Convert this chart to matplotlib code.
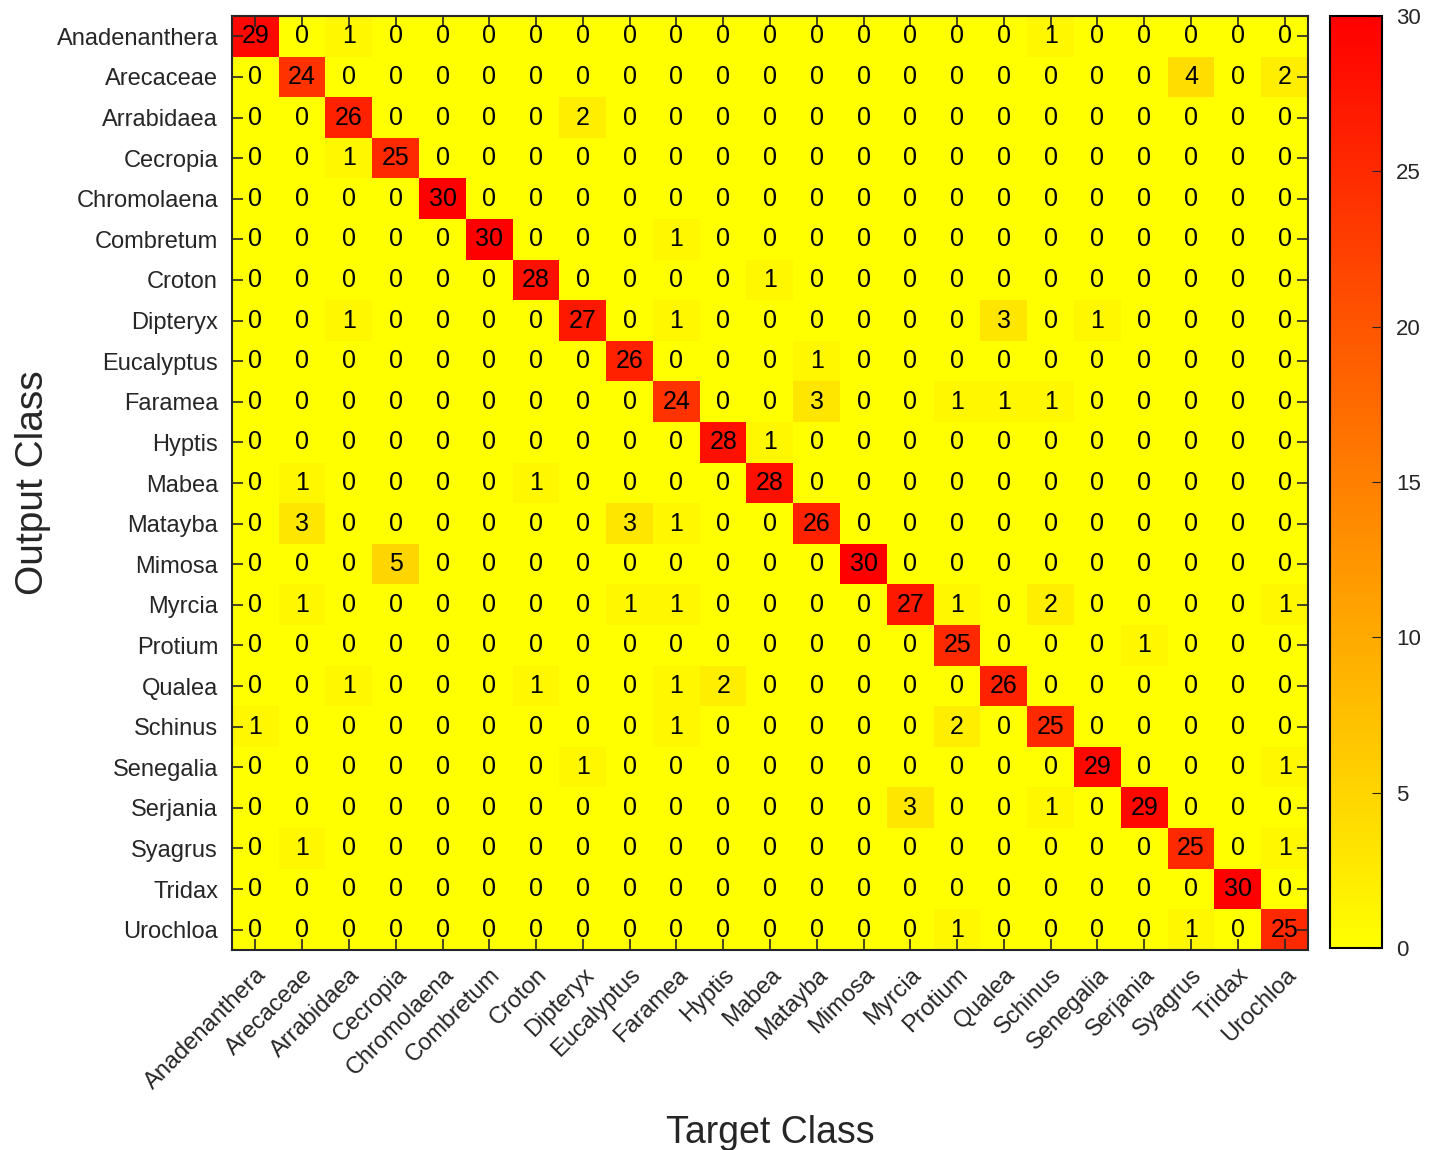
import numpy as np
import matplotlib.pyplot as plt
plt.rcParams['font.family'] = ['Liberation Sans', 'DejaVu Sans']

classes = ["Anadenanthera", "Arecaceae", "Arrabidaea", "Cecropia", "Chromolaena",
           "Combretum", "Croton", "Dipteryx", "Eucalyptus", "Faramea", "Hyptis",
           "Mabea", "Matayba", "Mimosa", "Myrcia", "Protium", "Qualea", "Schinus",
           "Senegalia", "Serjania", "Syagrus", "Tridax", "Urochloa"]

# off-diagonal entries: (output row, target col, count)
diag = [29, 24, 26, 25, 30, 30, 28, 27, 26, 24, 28, 28, 26, 30, 27, 25, 26, 25, 29, 29, 25, 30, 25]
offdiag = [
    (0, 2, 1), (0, 17, 1),
    (1, 20, 4), (1, 22, 2),
    (2, 7, 2),
    (3, 2, 1),
    (5, 9, 1),
    (6, 11, 1),
    (7, 2, 1), (7, 9, 1), (7, 16, 3), (7, 18, 1),
    (8, 12, 1),
    (9, 12, 3), (9, 15, 1), (9, 16, 1), (9, 17, 1),
    (10, 11, 1),
    (11, 1, 1), (11, 6, 1),
    (12, 1, 3), (12, 8, 3), (12, 9, 1),
    (13, 3, 5),
    (14, 1, 1), (14, 8, 1), (14, 9, 1), (14, 15, 1), (14, 17, 2), (14, 22, 1),
    (15, 19, 1),
    (16, 2, 1), (16, 6, 1), (16, 9, 1), (16, 10, 2),
    (17, 0, 1), (17, 9, 1), (17, 15, 2),
    (18, 7, 1), (18, 22, 1),
    (19, 14, 3), (19, 17, 1),
    (20, 1, 1), (20, 22, 1),
    (22, 15, 1), (22, 20, 1),
]

n = len(classes)
cm = np.zeros((n, n), dtype=int)
for i, v in enumerate(diag):
    cm[i, i] = v
for r, c, v in offdiag:
    cm[r, c] = v

fig = plt.figure(figsize=(14.3, 11.5), dpi=100)
ax = fig.add_axes([232/1430, 1-950/1150, (1308-232)/1430, (950-16)/1150])
cax = fig.add_axes([1330/1430, 1-948/1150, 52/1430, (948-16)/1150])

im = ax.imshow(cm, cmap='autumn_r', vmin=0, vmax=30, aspect='auto')
for i in range(n):
    for j in range(n):
        ax.text(j, i, str(cm[i, j]), ha='center', va='center', fontsize=18, color='black')

ax.set_xticks(range(n))
ax.set_yticks(range(n))
ax.set_xticklabels(classes, rotation=45, ha='right', rotation_mode='anchor', fontsize=17, color='#262626')
ax.set_yticklabels(classes, fontsize=17, color='#262626')
ax.tick_params(direction='in', top=True, right=True, length=8, width=1.2, color='#262626', pad=10)
for s in ax.spines.values():
    s.set_linewidth(1.5)
    s.set_color('#262626')
ax.set_xlabel("Target Class", fontsize=27, color='#262626', labelpad=15)
ax.set_ylabel("Output Class", fontsize=28, color='#262626', labelpad=4)

cb = fig.colorbar(im, cax=cax, ticks=[0, 5, 10, 15, 20, 25, 30])
cb.ax.tick_params(direction='in', length=7, labelsize=16, colors='#262626', pad=10)
cb.outline.set_linewidth(1.5)

plt.savefig("out.png", dpi=100)
